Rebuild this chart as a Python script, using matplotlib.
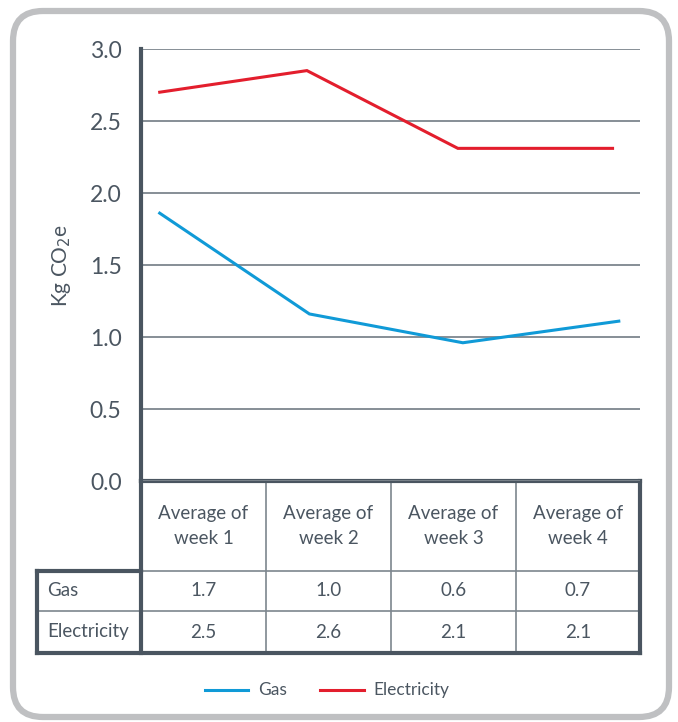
import numpy as np
import matplotlib
matplotlib.use('Agg')
from matplotlib import pyplot as plt
from matplotlib.patches import FancyBboxPatch

plt.rcParams['font.family'] = ['Lato', 'DejaVu Sans']

# data
weeks      = ['Average of\nweek 1', 'Average of\nweek 2', 'Average of\nweek 3', 'Average of\nweek 4']
series     = ['Gas', 'Electricity']
gas_x      = [0.15, 1.35, 2.58, 3.83]
gas_y      = [1.86, 1.16, 0.96, 1.11]
elec_x     = [0.15, 1.33, 2.54, 3.78]
elec_y     = [2.70, 2.85, 2.31, 2.31]
table_vals = [['1.7', '1.0', '0.6', '0.7'],
              ['2.5', '2.6', '2.1', '2.1']]
yticks     = [0.0, 0.5, 1.0, 1.5, 2.0, 2.5, 3.0]

txt   = '#4b5661'
dark  = '#4a5560'
grid  = '#7d868e'
blue  = '#109ad7'
red   = '#e31e2d'

W, H = 678, 722
fig = plt.figure(figsize=(W/100, H/100), dpi=100)

# overlay in pixel coords for frame + table
ov = fig.add_axes([0, 0, 1, 1])
ov.set_xlim(0, W); ov.set_ylim(H, 0); ov.axis('off')
ov.add_patch(FancyBboxPatch((13, 11), 656, 706, boxstyle='round,pad=0,rounding_size=30',
                            fc='none', ec='#bfc0c2', lw=4.5))

# main plot
x0, x1, ytop, ybot = 141, 640, 49, 481
ax = fig.add_axes([x0/W, 1-ybot/H, (x1-x0)/W, (ybot-ytop)/H])
ax.set_xlim(0, 4); ax.set_ylim(0, 3)
for v in yticks:
    ax.axhline(v, color=grid, lw=1.3, zorder=0)
ax.plot(elec_x, elec_y, color=red, lw=2.2, solid_joinstyle='miter')
ax.plot(gas_x, gas_y, color=blue, lw=2.2, solid_joinstyle='miter')
for s in ['top', 'right', 'bottom']:
    ax.spines[s].set_visible(False)
ax.spines['left'].set_color(dark); ax.spines['left'].set_linewidth(3)
ax.set_xticks([])
ax.set_yticks(yticks)
ax.set_yticklabels([f'{v:.1f}' for v in yticks], fontsize=16.5, color=txt)
ax.tick_params(axis='y', length=0, pad=14)
ax.set_ylabel('Kg CO$_2$e', fontsize=15, color=txt, labelpad=12)
ax.patch.set_alpha(0)

# table
cols  = [141, 266, 391, 516, 640]
rows  = [481, 571, 611, 653]
tl    = 37
thin  = dict(color=grid, lw=1.2)
thick = dict(color=dark, lw=3)
for c in cols[1:-1]:
    ov.plot([c, c], [rows[0], rows[-1]], **thin)
for r in rows[1:-1]:
    ov.plot([tl, cols[-1]], [r, r], **thin)
ov.plot([cols[0], cols[-1]], [rows[0], rows[0]], **thick)
ov.plot([cols[-1], cols[-1]], [rows[0], rows[-1]], **thick)
ov.plot([tl, cols[-1]], [rows[-1], rows[-1]], **thick)
ov.plot([tl, tl], [rows[1], rows[-1]], **thick)
ov.plot([tl, cols[0]], [rows[1], rows[1]], **thick)
ov.plot([cols[0], cols[0]], [rows[0], rows[-1]], **thick)

for i, w in enumerate(weeks):
    ov.text((cols[i]+cols[i+1])/2, (rows[0]+rows[1])/2, w, ha='center', va='center',
            fontsize=13.5, color=txt, linespacing=1.5)
for j, s in enumerate(series):
    ov.text(tl+10, (rows[j+1]+rows[j+2])/2, s, ha='left', va='center', fontsize=13.5, color=txt)
    for i, v in enumerate(table_vals[j]):
        ov.text((cols[i]+cols[i+1])/2, (rows[j+1]+rows[j+2])/2, v, ha='center', va='center',
                fontsize=13.5, color=txt)

# legend
ov.plot([205, 248], [690, 690], color=blue, lw=2.2)
ov.text(258, 690, 'Gas', va='center', fontsize=12.5, color=txt)
ov.plot([320, 364], [690, 690], color=red, lw=2.2)
ov.text(373, 690, 'Electricity', va='center', fontsize=12.5, color=txt)

fig.savefig('out.png', dpi=100)
